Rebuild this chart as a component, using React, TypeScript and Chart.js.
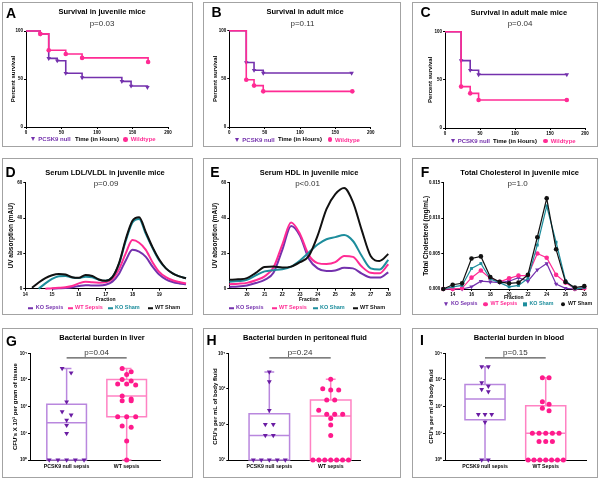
import React, { useEffect, useRef } from 'react';
import { Chart, registerables } from 'chart.js';

Chart.register(...registerables);

const FONT = '"Liberation Sans", Arial, Helvetica, sans-serif';

const PURPLE = '#7431ad';
const PINK = '#ff2b94';
const TEAL = '#1d8d9c';
const BLACK = '#111111';
const BOX_PURPLE = '#b987de';
const BOX_PINK = '#ff82c3';
const DOT_PURPLE = '#6a1ca3';
const DOT_PINK = '#ff1a8c';

// ---------- A-C: survival ----------
const A_KO_TIME = [0, 20, 32, 44, 56, 79, 135, 148, 171];
const A_KO_SURV = [100, 97, 71.5, 69, 56, 51.5, 47.5, 42.7, 41.3];
const A_WT_TIME = [0, 20, 32, 56, 79, 172];
const A_WT_SURV = [100, 97, 80, 76, 72, 67.7];

const B_KO_TIME = [0, 24, 35, 48, 173];
const B_KO_SURV = [100, 67, 59, 56, 56];
const B_WT_TIME = [0, 24, 35, 48, 174];
const B_WT_SURV = [100, 49, 43, 37, 37];

const C_KO_TIME = [0, 23, 36, 48, 174];
const C_KO_SURV = [100, 70, 60, 55.5, 55.5];
const C_WT_TIME = [0, 23, 36, 48, 174];
const C_WT_SURV = [100, 43, 36, 29, 29];

const SURV_X_TICKS = [0, 50, 100, 150, 200];
const SURV_Y_TICKS = [0, 50, 100];

// ---------- D: LDL/VLDL ----------
const D_FRACTION = [14, 14.25, 14.5, 14.75, 15, 15.25, 15.5, 15.75, 16, 16.25, 16.5, 16.75, 17, 17.25, 17.5, 17.75, 18, 18.25, 18.5, 18.75, 19, 19.25, 19.5, 19.75, 20];
const D_KO_SEPSIS = [null, null, null, null, 0, 0.2, 0.4, 0.8, 1.5, 2, 1.8, 1.8, 2.2, 4, 8.5, 16, 22, 21, 18, 12.5, 8, 5.3, 3.8, 3, 2.5];
const D_WT_SEPSIS = [null, null, null, 0, 0.3, 0.5, 0.8, 1.5, 3, 4, 3.6, 3.4, 3.6, 5.5, 11, 20, 27.5, 26, 22, 15, 9.5, 6.5, 4.8, 3.8, 3];
const D_KO_SHAM = [null, null, 0, 3, 5.5, 7, 7.2, 6.3, 6, 6.8, 6.5, 5, 4.5, 6.5, 14, 27, 37.5, 39.5, 31, 23, 16, 11.5, 8.7, 7, 5.9];
const D_WT_SHAM = [null, 0.5, 3.5, 6, 7.6, 8.3, 8, 6.5, 6.2, 7.8, 7.2, 5.2, 4.5, 6.5, 14.5, 28, 38.5, 40.5, 32, 23.5, 16.5, 11.5, 8.7, 7, 5.9];
const D_X_TICKS = [14, 15, 16, 17, 18, 19];
const D_Y_TICKS = [0, 20, 40, 60];

// ---------- E: HDL ----------
const E_FRACTION = [19, 19.5, 20, 20.5, 21, 21.5, 22, 22.5, 23, 23.5, 24, 24.5, 25, 25.5, 26, 26.5, 27, 27.5, 28];
const E_KO_SEPSIS = [1, 1.2, 1.8, 3.2, 5, 9, 22, 35.5, 30, 17, 11.5, 10, 10.3, 11.8, 11.5, 8.5, 6.3, 6.3, 9.3];
const E_WT_SEPSIS = [2.5, 2.8, 3.3, 4.8, 7, 12, 25, 37.5, 31, 19, 14.5, 14, 15, 18.5, 18, 12.5, 9, 8.7, 13.8];
const E_KO_SHAM = [4, 4.3, 5, 7.5, 9.8, 10.5, 11, 12.5, 16, 20.5, 25, 28, 29.2, 30.4, 27, 18.5, 11.5, 10.8, 16.3];
const E_WT_SHAM = [5, 5.3, 6, 9, 12.3, 12.5, 12, 12.5, 15, 18.5, 30, 45, 53.5, 57, 49, 33, 18.5, 15.7, 19.6];
const E_X_TICKS = [20, 21, 22, 23, 24, 25, 26, 27, 28];

// ---------- F: total cholesterol ----------
const F_FRACTION = [13, 14, 15, 16, 17, 18, 19, 20, 21, 22, 23, 24, 25, 26, 27, 28];
const F_KO_SEPSIS = [0, 0, 0, 0.0003, 0.0011, 0.001, 0.0009, 0.0011, 0.0016, 0.0011, 0.0027, 0.0036, 0.0007, 0.0001, 0, 0.0002];
const F_WT_SEPSIS = [0, 0, 0.0001, 0.0016, 0.0026, 0.0015, 0.001, 0.0015, 0.0019, 0.0019, 0.005, 0.0044, 0.002, 0.0009, 0, 0.0001];
const F_KO_SHAM = [0, 0.0003, 0.0005, 0.0029, 0.0036, 0.0014, 0.0009, 0.0003, 0.0005, 0.0015, 0.0062, 0.0117, 0.0066, 0.0012, 0, 0.0002];
const F_WT_SHAM = [0, 0.0006, 0.0008, 0.0043, 0.0046, 0.0017, 0.001, 0.0008, 0.0009, 0.002, 0.0073, 0.0128, 0.0056, 0.001, 0.0002, 0.0004];
const F_X_TICKS = [14, 16, 18, 20, 22, 24, 26, 28];
const F_Y_TICKS = [0, 0.005, 0.01, 0.015];

// ---------- G-I: bacterial burden ----------
const G_CATS = ['PCSK9 null sepsis', 'WT sepsis'];
const G_KO_VALUES = [2700, 1860, 152, 65, 49, 31, 20, 10, 1, 1, 1, 1, 1];
const G_KO_BOX = [1, 1, 25, 122, 2700]; // min, q1, median, q3, max
const G_WT_VALUES = [2700, 2040, 1620, 1050, 910, 705, 705, 645, 250, 192, 166, 166, 42, 42, 42, 19, 17, 5.2, 1];
const G_WT_BOX = [1, 42, 250, 1050, 2700];

const H_CATS = ['PCSK9 null sepsis', 'WT sepsis'];
const H_KO_VALUES = [3000, 1600, 250, 100, 100, 49, 49, 10, 10, 10, 10, 10];
const H_KO_BOX = [10, 10, 49, 200, 3000];
const H_WT_VALUES = [1850, 1000, 930, 930, 490, 490, 251, 192, 192, 192, 148, 96, 49, 10, 10, 10, 10, 10, 10, 10];
const H_WT_BOX = [10, 10, 173, 490, 1850];

const I_CATS = ['PCSK9 null sepsis', 'WT Sepsis'];
const I_KO_VALUES = [3150, 3150, 790, 590, 445, 363, 51, 51, 51, 26, 1, 1];
const I_KO_BOX = [1, 32, 192, 680, 3150];
const I_WT_VALUES = [1200, 1200, 152, 122, 87, 70, 10, 10, 10, 10, 10, 4.9, 4.9, 4.9, 1, 1, 1, 1, 1, 1, 1];
const I_WT_BOX = [1, 1, 10, 108, 1200];

const LOG_TICKS_4 = [1, 10, 100, 1000, 10000];
const LOG_TICKS_3 = [10, 100, 1000, 10000];
const SUP = ['⁰', '¹', '²', '³', '⁴', '⁵'];

// ---------- layout ----------
type Box = { left: number; top: number; width: number; height: number };
type Area = { L: number; T: number; R: number; B: number };
type AxisTitle = { text: string; pos: number; size: number };
type AxisSpec = {
  type?: 'linear' | 'logarithmic';
  min: number;
  max: number;
  ticks: number[];
  fmt?: (v: number) => string;
  drawTicks?: boolean;
  pad?: number;
};

const ROW1 = { top: 2, height: 145 };
const ROW2 = { top: 158, height: 157 };
const ROW3 = { top: 328, height: 150 };
const COL1 = { left: 2, width: 191 };
const COL2 = { left: 203, width: 198 };
const COL3 = { left: 412, width: 186 };
const mkBox = (c: { left: number; width: number }, r: { top: number; height: number }): Box => ({ left: c.left, top: r.top, width: c.width, height: r.height });

const BOX_A = mkBox(COL1, ROW1);
const BOX_B = mkBox(COL2, ROW1);
const BOX_C = mkBox(COL3, ROW1);
const BOX_D = mkBox(COL1, ROW2);
const BOX_E = mkBox(COL2, ROW2);
const BOX_F = mkBox(COL3, ROW2);
const BOX_G = mkBox(COL1, ROW3);
const BOX_H = mkBox(COL2, ROW3);
const BOX_I = mkBox(COL3, ROW3);
const ALL_BOXES = [BOX_A, BOX_B, BOX_C, BOX_D, BOX_E, BOX_F, BOX_G, BOX_H, BOX_I];

function buildOptions(b: Box, area: Area, yTitle: AxisTitle, xTitle: AxisTitle | null, xs: AxisSpec, ys: AxisSpec, tickSize: number) {
  const cx0 = b.left + 1, cy0 = b.top + 1, cw = b.width - 2, ch = b.height - 2;
  const wY = area.L - (yTitle.pos - yTitle.size * 0.6);
  const hX = xTitle ? xTitle.pos + xTitle.size * 0.6 - area.B : 14;
  const padding = { left: area.L - cx0 - wY, top: area.T - cy0, right: cx0 + cw - area.R, bottom: cy0 + ch - area.B - hX };
  const tickFont = { family: FONT, size: tickSize, weight: 'bold' as const };
  const mkAxis = (s: AxisSpec, title: AxisTitle | null, fit: (sc: any) => void) => ({
    type: s.type ?? 'linear',
    min: s.min,
    max: s.max,
    grid: { display: true, drawOnChartArea: false, drawTicks: s.drawTicks !== false, tickLength: 2, color: '#000', lineWidth: 1 },
    border: { display: true, color: '#000', width: 1 },
    ticks: {
      font: tickFont,
      color: '#000',
      padding: s.pad ?? 1,
      maxRotation: 0,
      autoSkip: false,
      callback: (v: any) => (s.fmt ? s.fmt(Number(v)) : String(v)),
    },
    afterBuildTicks: (sc: any) => { sc.ticks = s.ticks.map((v) => ({ value: v })); },
    title: title
      ? { display: true, text: title.text, color: '#000', padding: 0, font: { family: FONT, size: title.size, weight: 'bold' } }
      : { display: false },
    afterFit: fit,
  });
  return {
    responsive: false,
    animation: false as const,
    devicePixelRatio: 1,
    events: [] as any[],
    layout: { padding },
    plugins: { legend: { display: false }, title: { display: false }, tooltip: { enabled: false } },
    scales: {
      x: mkAxis(xs, xTitle, (sc) => { sc.height = hX; }),
      y: mkAxis(ys, yTitle, (sc) => { sc.width = wY; }),
    },
  };
}

// ---------- chart builders ----------
function kmConfig(b: Box, area: Area, yTitleX: number, xTitleY: number, koT: number[], koS: number[], wtT: number[], wtS: number[]) {
  const options = buildOptions(
    b, area,
    { text: 'Percent survival', pos: yTitleX, size: 6 },
    { text: 'Time (in Hours)', pos: xTitleY, size: 6 },
    { min: 0, max: 200, ticks: SURV_X_TICKS },
    { min: 0, max: 100, ticks: SURV_Y_TICKS },
    4.5,
  );
  return {
    type: 'line',
    data: {
      datasets: [
        {
          label: 'Wildtype',
          data: wtT.map((t, i) => ({ x: t, y: wtS[i] })),
          borderColor: PINK, backgroundColor: PINK, borderWidth: 1.6, stepped: true,
          pointStyle: 'circle', pointRadius: (c: any) => (c.dataIndex === 0 ? 0 : 2.3), pointBorderWidth: 0,
          order: 0, clip: false,
        },
        {
          label: 'PCSK9 null',
          data: koT.map((t, i) => ({ x: t, y: koS[i] })),
          borderColor: PURPLE, backgroundColor: PURPLE, borderWidth: 1.6, stepped: true,
          pointStyle: 'triangle', pointRotation: 180, pointRadius: (c: any) => (c.dataIndex === 0 ? 0 : 2.6), pointBorderWidth: 0,
          order: 1, clip: false,
        },
      ],
    },
    options,
  };
}

function curveDs(xs: number[], ys: (number | null)[], color: string, order: number) {
  return {
    data: xs.map((x, i) => ({ x, y: ys[i] })),
    borderColor: color, backgroundColor: color, borderWidth: 2,
    pointRadius: 0, cubicInterpolationMode: 'monotone', spanGaps: false, order, clip: false,
  };
}

function markerDs(xs: number[], ys: number[], color: string, style: string, rot: number, r: number, order: number) {
  return {
    data: xs.map((x, i) => ({ x, y: ys[i] })),
    borderColor: color, backgroundColor: color, borderWidth: 1.2, tension: 0,
    pointStyle: style, pointRotation: rot, pointRadius: r, pointBorderWidth: 0, order, clip: false,
  };
}

type BoxGroup = { pos: number; values: number[]; stats: number[]; boxColor: string; dotColor: string; style: string; rot: number; r: number };

const BOX_HALF = 0.33;
const CAP_HALF = 0.08;

function boxPlugin(groups: BoxGroup[], pText: string) {
  return {
    id: 'boxplot',
    beforeDatasetsDraw(chart: any) {
      const { ctx } = chart;
      const xs = chart.scales.x, ys = chart.scales.y;
      const px = (v: number) => xs.getPixelForValue(v);
      const py = (v: number) => ys.getPixelForValue(v);
      ctx.save();
      ctx.lineWidth = 1.5;
      for (const g of groups) {
        const [mn, q1, med, q3, mx] = g.stats;
        ctx.strokeStyle = g.boxColor;
        ctx.beginPath();
        ctx.rect(px(g.pos - BOX_HALF), py(q3), px(g.pos + BOX_HALF) - px(g.pos - BOX_HALF), py(q1) - py(q3));
        ctx.moveTo(px(g.pos - BOX_HALF), py(med)); ctx.lineTo(px(g.pos + BOX_HALF), py(med));
        ctx.moveTo(px(g.pos), py(q3)); ctx.lineTo(px(g.pos), py(mx));
        ctx.moveTo(px(g.pos - CAP_HALF), py(mx)); ctx.lineTo(px(g.pos + CAP_HALF), py(mx));
        ctx.moveTo(px(g.pos), py(q1)); ctx.lineTo(px(g.pos), py(mn));
        ctx.moveTo(px(g.pos - CAP_HALF), py(mn)); ctx.lineTo(px(g.pos + CAP_HALF), py(mn));
        ctx.stroke();
      }
      ctx.restore();
    },
    afterDatasetsDraw(chart: any) {
      const { ctx, chartArea } = chart;
      const xs = chart.scales.x;
      const x0 = xs.getPixelForValue(0), x1 = xs.getPixelForValue(1);
      const yl = chartArea.top + 4.5;
      ctx.save();
      ctx.strokeStyle = '#555';
      ctx.lineWidth = 1.2;
      ctx.beginPath(); ctx.moveTo(x0, yl); ctx.lineTo(x1, yl); ctx.stroke();
      ctx.fillStyle = '#333';
      ctx.font = `8px ${FONT}`;
      ctx.textAlign = 'center';
      ctx.textBaseline = 'middle';
      ctx.fillText(pText, (x0 + x1) / 2, yl - 5.5);
      ctx.restore();
    },
  };
}

// values are sorted descending; near-equal values form a centred row
function swarmOffsets(values: number[], step: number, dy: number, maxSpan: number): number[] {
  const offs: number[] = new Array(values.length).fill(0);
  let i = 0;
  while (i < values.length) {
    const top = Math.log10(values[i]);
    let j = i;
    while (j < values.length && top - Math.log10(values[j]) < dy) j++;
    const n = j - i;
    const s = n > 1 ? Math.min(step, maxSpan / (n - 1)) : 0;
    for (let k = 0; k < n; k++) offs[i + k] = (k - (n - 1) / 2) * s;
    i = j;
  }
  return offs;
}

function boxConfig(b: Box, area: Area, yTitle: AxisTitle, cats: string[], xMin: number, xMax: number, yMin: number, yTicks: number[], groups: BoxGroup[], pText: string, step: number, dy: number) {
  const options = buildOptions(
    b, area, yTitle, null,
    { min: xMin, max: xMax, ticks: [0, 1], fmt: (v) => cats[Math.round(v)] ?? '', drawTicks: false, pad: 3 },
    { type: 'logarithmic', min: yMin, max: 10000, ticks: yTicks, fmt: (v) => '10' + SUP[Math.round(Math.log10(v))] },
    4.5,
  );
  (options.scales.x.ticks as any).font = { family: FONT, size: 5.2, weight: 'bold' };
  const datasets = groups.map((g) => {
    const offs = swarmOffsets(g.values, step, dy, 0.58);
    return {
      data: g.values.map((v, i) => ({ x: g.pos + offs[i], y: v })),
      backgroundColor: g.dotColor, borderColor: g.dotColor,
      pointStyle: g.style, pointRotation: g.rot, pointRadius: g.r, pointBorderWidth: 0, clip: false,
    };
  });
  return { type: 'scatter', data: { datasets }, options, plugins: [boxPlugin(groups, pText)] };
}

const koGroup = (values: number[], stats: number[]): BoxGroup => ({ pos: 0, values, stats, boxColor: BOX_PURPLE, dotColor: DOT_PURPLE, style: 'triangle', rot: 180, r: 2.8 });
const wtGroup = (values: number[], stats: number[]): BoxGroup => ({ pos: 1, values, stats, boxColor: BOX_PINK, dotColor: DOT_PINK, style: 'circle', r: 2.5, rot: 0 });

// ---------- React parts ----------
function ChartCanvas({ b, config }: { b: Box; config: () => any }) {
  const ref = useRef<HTMLCanvasElement | null>(null);
  useEffect(() => {
    if (!ref.current) return;
    const chart = new Chart(ref.current, config());
    return () => chart.destroy();
  }, []);
  return (
    <canvas
      ref={ref}
      width={b.width - 2}
      height={b.height - 2}
      style={{ position: 'absolute', left: b.left + 1, top: b.top + 1, width: b.width - 2, height: b.height - 2 }}
    />
  );
}

function Txt({ x, y, size, bold, color = '#000', children }: { x: number; y: number; size: number; bold?: boolean; color?: string; children: React.ReactNode }) {
  return (
    <div
      style={{
        position: 'absolute', left: x, top: y, transform: 'translate(-50%, -50%)',
        fontFamily: FONT, fontSize: size, fontWeight: bold ? 'bold' : 'normal',
        lineHeight: 1, whiteSpace: 'nowrap', color,
      }}
    >
      {children}
    </div>
  );
}

type LegendItem = { label: string; color: string; marker: 'tri' | 'circle' | 'square' | 'line' };

function Marker({ kind, color }: { kind: string; color: string }) {
  if (kind === 'tri')
    return <span style={{ display: 'inline-block', width: 0, height: 0, borderLeft: '2.6px solid transparent', borderRight: '2.6px solid transparent', borderTop: `4.2px solid ${color}` }} />;
  if (kind === 'circle') return <span style={{ display: 'inline-block', width: 4.6, height: 4.6, borderRadius: '50%', background: color }} />;
  if (kind === 'square') return <span style={{ display: 'inline-block', width: 4, height: 4, background: color }} />;
  return <span style={{ display: 'inline-block', width: 5, height: 1.8, background: color }} />;
}

function Legend({ items, xs, y, size = 6 }: { items: LegendItem[]; xs: number[]; y: number; size?: number }) {
  return (
    <>
      {items.map((it, i) => (
        <div
          key={it.label}
          style={{
            position: 'absolute', left: xs[i] - 3, top: y, transform: 'translateY(-50%)',
            display: 'flex', alignItems: 'center', gap: 2, whiteSpace: 'nowrap',
            fontFamily: FONT, fontSize: size, fontWeight: 'bold', lineHeight: 1, color: it.color,
          }}
        >
          <span style={{ width: 6, display: 'inline-flex', justifyContent: 'center' }}>
            <Marker kind={it.marker} color={it.color} />
          </span>
          <span>{it.label}</span>
        </div>
      ))}
    </>
  );
}

const SURV_LEGEND: LegendItem[] = [
  { label: 'PCSK9 null', color: PURPLE, marker: 'tri' },
  { label: 'Wildtype', color: PINK, marker: 'circle' },
];
const LIPID_LEGEND: LegendItem[] = [
  { label: 'KO Sepsis', color: PURPLE, marker: 'line' },
  { label: 'WT Sepsis', color: PINK, marker: 'line' },
  { label: 'KO Sham', color: TEAL, marker: 'line' },
  { label: 'WT Sham', color: BLACK, marker: 'line' },
];
const CHOL_LEGEND: LegendItem[] = [
  { label: 'KO Sepsis', color: PURPLE, marker: 'tri' },
  { label: 'WT Sepsis', color: PINK, marker: 'circle' },
  { label: 'KO Sham', color: TEAL, marker: 'square' },
  { label: 'WT Sham', color: BLACK, marker: 'circle' },
];

export default function App() {
  return (
    <div style={{ position: 'fixed', left: 0, top: 0, width: 600, height: 480, background: '#fff', overflow: 'hidden' }}>
      {ALL_BOXES.map((b, i) => (
        <div key={i} style={{ position: 'absolute', left: b.left, top: b.top, width: b.width, height: b.height, boxSizing: 'border-box', border: '1px solid #a3a3a3' }} />
      ))}

      <ChartCanvas b={BOX_A} config={() => kmConfig(BOX_A, { L: 26, T: 31, R: 168, B: 127 }, 13, 139.3, A_KO_TIME, A_KO_SURV, A_WT_TIME, A_WT_SURV)} />
      <ChartCanvas b={BOX_B} config={() => kmConfig(BOX_B, { L: 229.3, T: 30.7, R: 370.7, B: 127 }, 215, 139.5, B_KO_TIME, B_KO_SURV, B_WT_TIME, B_WT_SURV)} />
      <ChartCanvas b={BOX_C} config={() => kmConfig(BOX_C, { L: 445, T: 31.7, R: 585, B: 128 }, 430.7, 141, C_KO_TIME, C_KO_SURV, C_WT_TIME, C_WT_SURV)} />

      <ChartCanvas
        b={BOX_D}
        config={() => ({
          type: 'line',
          data: {
            datasets: [
              curveDs(D_FRACTION, D_WT_SHAM, BLACK, 0),
              curveDs(D_FRACTION, D_KO_SHAM, TEAL, 1),
              curveDs(D_FRACTION, D_WT_SEPSIS, PINK, 2),
              curveDs(D_FRACTION, D_KO_SEPSIS, PURPLE, 3),
            ],
          },
          options: buildOptions(
            BOX_D, { L: 25.3, T: 182.7, R: 186, B: 288.7 },
            { text: 'UV absorption (mAU)', pos: 11.7, size: 6.5 },
            { text: 'Fraction', pos: 300, size: 5 },
            { min: 14, max: 20, ticks: D_X_TICKS },
            { min: 0, max: 60, ticks: D_Y_TICKS },
            4.5,
          ),
        })}
      />
      <ChartCanvas
        b={BOX_E}
        config={() => ({
          type: 'line',
          data: {
            datasets: [
              curveDs(E_FRACTION, E_WT_SHAM, BLACK, 0),
              curveDs(E_FRACTION, E_KO_SHAM, TEAL, 1),
              curveDs(E_FRACTION, E_WT_SEPSIS, PINK, 2),
              curveDs(E_FRACTION, E_KO_SEPSIS, PURPLE, 3),
            ],
          },
          options: buildOptions(
            BOX_E, { L: 229.3, T: 182.7, R: 388.3, B: 288.7 },
            { text: 'UV absorption (mAU)', pos: 215, size: 6.5 },
            { text: 'Fraction', pos: 300, size: 5 },
            { min: 19, max: 28, ticks: E_X_TICKS },
            { min: 0, max: 60, ticks: D_Y_TICKS },
            4.5,
          ),
        })}
      />
      <ChartCanvas
        b={BOX_F}
        config={() => ({
          type: 'line',
          data: {
            datasets: [
              markerDs(F_FRACTION, F_WT_SHAM, BLACK, 'circle', 0, 2.3, 0),
              markerDs(F_FRACTION, F_KO_SHAM, TEAL, 'rect', 0, 2, 1),
              markerDs(F_FRACTION, F_WT_SEPSIS, PINK, 'circle', 0, 2.3, 2),
              markerDs(F_FRACTION, F_KO_SEPSIS, PURPLE, 'triangle', 180, 2.5, 3),
            ],
          },
          options: buildOptions(
            BOX_F, { L: 443.3, T: 182.7, R: 584.3, B: 289 },
            { text: 'Total Cholesterol (mg/mL)', pos: 426, size: 6.5 },
            { text: 'Fraction', pos: 297.3, size: 5 },
            { min: 13, max: 28, ticks: F_X_TICKS },
            { min: 0, max: 0.015, ticks: F_Y_TICKS, fmt: (v) => v.toFixed(3) },
            4.5,
          ),
        })}
      />

      <ChartCanvas
        b={BOX_G}
        config={() =>
          boxConfig(
            BOX_G, { L: 30, T: 353.3, R: 160, B: 460 },
            { text: "CFU's X 10³ per gram of tissue", pos: 15, size: 6 },
            G_CATS, -0.61, 1.555, 1, LOG_TICKS_4,
            [koGroup(G_KO_VALUES, G_KO_BOX), wtGroup(G_WT_VALUES, G_WT_BOX)],
            'p=0.04', 0.15, 0.17,
          )
        }
      />
      <ChartCanvas
        b={BOX_H}
        config={() =>
          boxConfig(
            BOX_H, { L: 228.3, T: 353.3, R: 360, B: 460 },
            { text: "CFU's per mL of body fluid", pos: 215, size: 6 },
            H_CATS, -0.668, 1.477, 10, LOG_TICKS_3,
            [koGroup(H_KO_VALUES, H_KO_BOX), wtGroup(H_WT_VALUES, H_WT_BOX)],
            'p=0.24', 0.13, 0.13,
          )
        }
      />
      <ChartCanvas
        b={BOX_I}
        config={() =>
          boxConfig(
            BOX_I, { L: 445, T: 353.3, R: 586.7, B: 460 },
            { text: "CFU's per ml of body fluid", pos: 431.7, size: 6 },
            I_CATS, -0.659, 1.675, 1, LOG_TICKS_4,
            [koGroup(I_KO_VALUES, I_KO_BOX), wtGroup(I_WT_VALUES, I_WT_BOX)],
            'p=0.15', 0.11, 0.17,
          )
        }
      />

      {/* panel letters */}
      <Txt x={11} y={12.5} size={14} bold>A</Txt>
      <Txt x={216.5} y={12} size={14} bold>B</Txt>
      <Txt x={425.5} y={12} size={14} bold>C</Txt>
      <Txt x={10.5} y={171.8} size={14} bold>D</Txt>
      <Txt x={215} y={171.8} size={14} bold>E</Txt>
      <Txt x={425} y={171.5} size={14} bold>F</Txt>
      <Txt x={11.5} y={340.8} size={14} bold>G</Txt>
      <Txt x={211.5} y={340.3} size={14} bold>H</Txt>
      <Txt x={422} y={340.3} size={14} bold>I</Txt>

      {/* titles */}
      <Txt x={102} y={12} size={7.5} bold>Survival in juvenile mice</Txt>
      <Txt x={305} y={12} size={7.5} bold>Survival in adult mice</Txt>
      <Txt x={519} y={12.5} size={7.5} bold>Survival in adult male mice</Txt>
      <Txt x={105} y={172.7} size={7.5} bold>Serum LDL/VLDL in juvenile mice</Txt>
      <Txt x={309} y={172.7} size={7.5} bold>Serum HDL in juvenile mice</Txt>
      <Txt x={519.7} y={172.7} size={7.5} bold>Total Cholesterol in juvenile mice</Txt>
      <Txt x={102} y={338.3} size={7.5} bold>Bacterial burden in liver</Txt>
      <Txt x={305} y={338.3} size={7.5} bold>Bacterial burden in peritoneal fluid</Txt>
      <Txt x={519} y={338.3} size={7.5} bold>Bacterial burden in blood</Txt>

      {/* p-values */}
      <Txt x={102} y={24} size={8} color="#333">p=0.03</Txt>
      <Txt x={302.5} y={23.5} size={8} color="#333">p=0.11</Txt>
      <Txt x={520} y={24.3} size={8} color="#333">p=0.04</Txt>
      <Txt x={106} y={183.5} size={8} color="#333">p=0.09</Txt>
      <Txt x={307.5} y={184.3} size={8} color="#333">p&lt;0.01</Txt>
      <Txt x={517.5} y={184.3} size={8} color="#333">p=1.0</Txt>

      {/* legends */}
      <Legend items={SURV_LEGEND} xs={[33.3, 125.7]} y={139.3} />
      <Legend items={SURV_LEGEND} xs={[237.3, 330]} y={139.7} />
      <Legend items={SURV_LEGEND} xs={[452.7, 545.7]} y={141} />
      <Legend items={LIPID_LEGEND} xs={[30.7, 70, 110, 150]} y={308.3} size={5.5} />
      <Legend items={LIPID_LEGEND} xs={[231, 274, 315, 355]} y={308.3} size={5.5} />
      <Legend items={CHOL_LEGEND} xs={[446, 485.5, 524.5, 563]} y={304.3} size={5.3} />
    </div>
  );
}
